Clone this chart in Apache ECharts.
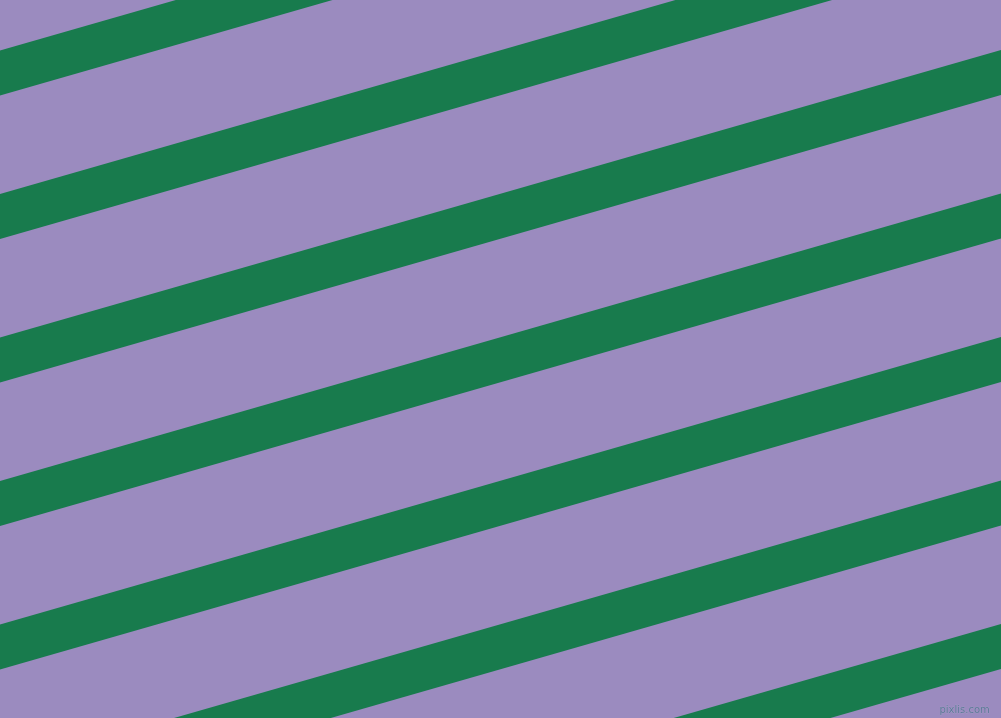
<!DOCTYPE html>
<html>
<head>
<meta charset="utf-8">
<script src="https://cdn.jsdelivr.net/npm/echarts@6/dist/echarts.min.js"></script>
<style>
  html, body { margin: 0; padding: 0; }
  #chart { width: 1001px; height: 718px; }
</style>
</head>
<body>
<div id="chart"></div>
<script>
// Stripe data: y of each stripe's upper edge where it meets the left side (x = 0)
const stripeLeftTops = [50.5, 194, 337.5, 481, 624.5, 768, 911.5];
// How much the stripe rises across the full width, and its vertical thickness
const stripeRise = [287.5];
const stripeThickness = [45];
const xExtent = [0, 1001];
const yExtent = [0, 718];
const watermark = ['pixlis.com'];

const chart = echarts.init(document.getElementById('chart'), null, { renderer: 'canvas' });

chart.setOption({
  backgroundColor: '#9b8bbf',
  animation: false,
  grid: { left: 0, right: 0, top: 0, bottom: 0 },
  xAxis: { type: 'value', min: xExtent[0], max: xExtent[1], show: false },
  yAxis: { type: 'value', min: yExtent[0], max: yExtent[1], inverse: true, show: false },
  series: [{
    type: 'custom',
    clip: true,
    data: stripeLeftTops.map(function (y) { return [y]; }),
    renderItem: function (params, api) {
      const y0 = api.value(0);
      const rise = stripeRise[0];
      const w = stripeThickness[0];
      const pts = [
        api.coord([xExtent[0], y0]),
        api.coord([xExtent[1], y0 - rise]),
        api.coord([xExtent[1], y0 - rise + w]),
        api.coord([xExtent[0], y0 + w])
      ];
      return {
        type: 'polygon',
        shape: { points: pts },
        style: { fill: '#187b4d' }
      };
    }
  }],
  graphic: [{
    type: 'text',
    right: 11,
    bottom: 2,
    style: {
      text: watermark[0],
      font: '10px "DejaVu Sans", sans-serif',
      fill: '#5e7a98',
      stroke: '#a9a3c8',
      lineWidth: 0.5
    }
  }]
});
</script>
</body>
</html>
